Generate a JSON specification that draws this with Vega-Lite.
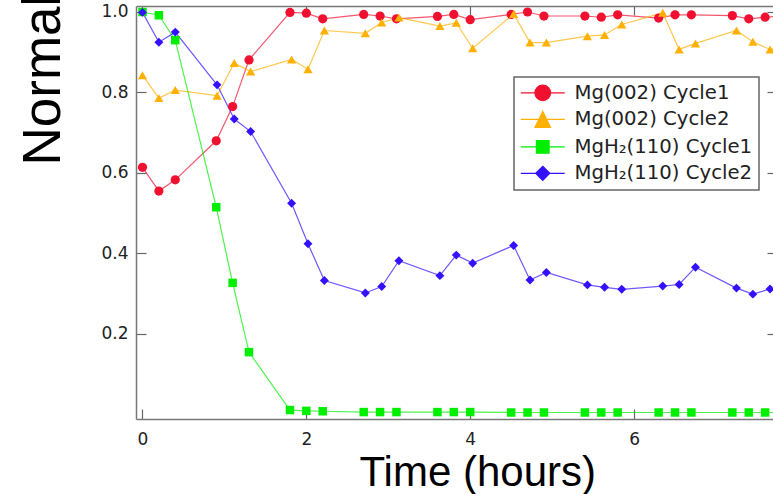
{
  "$schema": "https://vega.github.io/schema/vega-lite/v6.json",
  "width": 637,
  "height": 413,
  "autosize": {"type": "none"},
  "padding": {"left": 136, "top": 6, "right": 0, "bottom": 75},
  "background": "white",
  "config": {
    "view": {"stroke": null},
    "axis": {
      "grid": false,
      "domainColor": "#777777",
      "domainWidth": 1.5,
      "tickColor": "#666666",
      "tickWidth": 1.2,
      "labelFont": "DejaVu Sans",
      "labelFontSize": 17,
      "labelColor": "#222222",
      "labelFlush": false,
      "labelOverlap": false,
      "titleFont": "Liberation Sans",
      "titleFontWeight": "normal",
      "titleColor": "#000000"
    },
    "legend": {"strokeWidth": 1.5}
  },
  "datasets": {
    "scans": [
      {"t": 0, "s": "Mg(002) Cycle1", "v": 0.614},
      {"t": 0.2, "s": "Mg(002) Cycle1", "v": 0.555},
      {"t": 0.4, "s": "Mg(002) Cycle1", "v": 0.583},
      {"t": 0.9, "s": "Mg(002) Cycle1", "v": 0.68},
      {"t": 1.1, "s": "Mg(002) Cycle1", "v": 0.765},
      {"t": 1.3, "s": "Mg(002) Cycle1", "v": 0.881},
      {"t": 1.8, "s": "Mg(002) Cycle1", "v": 0.999},
      {"t": 2.0, "s": "Mg(002) Cycle1", "v": 0.997},
      {"t": 2.2, "s": "Mg(002) Cycle1", "v": 0.983},
      {"t": 2.7, "s": "Mg(002) Cycle1", "v": 0.994},
      {"t": 2.9, "s": "Mg(002) Cycle1", "v": 0.99},
      {"t": 3.1, "s": "Mg(002) Cycle1", "v": 0.983},
      {"t": 3.6, "s": "Mg(002) Cycle1", "v": 0.989},
      {"t": 3.8, "s": "Mg(002) Cycle1", "v": 0.994},
      {"t": 4.0, "s": "Mg(002) Cycle1", "v": 0.981},
      {"t": 4.5, "s": "Mg(002) Cycle1", "v": 0.994},
      {"t": 4.7, "s": "Mg(002) Cycle1", "v": 1.0},
      {"t": 4.9, "s": "Mg(002) Cycle1", "v": 0.99},
      {"t": 5.4, "s": "Mg(002) Cycle1", "v": 0.99},
      {"t": 5.6, "s": "Mg(002) Cycle1", "v": 0.987},
      {"t": 5.8, "s": "Mg(002) Cycle1", "v": 0.993},
      {"t": 6.3, "s": "Mg(002) Cycle1", "v": 0.985},
      {"t": 6.5, "s": "Mg(002) Cycle1", "v": 0.993},
      {"t": 6.7, "s": "Mg(002) Cycle1", "v": 0.993},
      {"t": 7.2, "s": "Mg(002) Cycle1", "v": 0.991},
      {"t": 7.4, "s": "Mg(002) Cycle1", "v": 0.983},
      {"t": 7.6, "s": "Mg(002) Cycle1", "v": 0.987},
      {"t": 7.8, "s": "Mg(002) Cycle1", "v": 0.99},

      {"t": 0, "s": "Mg(002) Cycle2", "v": 0.843},
      {"t": 0.2, "s": "Mg(002) Cycle2", "v": 0.786},
      {"t": 0.4, "s": "Mg(002) Cycle2", "v": 0.806},
      {"t": 0.91, "s": "Mg(002) Cycle2", "v": 0.792},
      {"t": 1.12, "s": "Mg(002) Cycle2", "v": 0.873},
      {"t": 1.32, "s": "Mg(002) Cycle2", "v": 0.852},
      {"t": 1.82, "s": "Mg(002) Cycle2", "v": 0.882},
      {"t": 2.02, "s": "Mg(002) Cycle2", "v": 0.858},
      {"t": 2.22, "s": "Mg(002) Cycle2", "v": 0.954},
      {"t": 2.72, "s": "Mg(002) Cycle2", "v": 0.947},
      {"t": 2.92, "s": "Mg(002) Cycle2", "v": 0.974},
      {"t": 3.13, "s": "Mg(002) Cycle2", "v": 0.986},
      {"t": 3.63, "s": "Mg(002) Cycle2", "v": 0.965},
      {"t": 3.83, "s": "Mg(002) Cycle2", "v": 0.973},
      {"t": 4.03, "s": "Mg(002) Cycle2", "v": 0.91},
      {"t": 4.53, "s": "Mg(002) Cycle2", "v": 0.995},
      {"t": 4.73, "s": "Mg(002) Cycle2", "v": 0.924},
      {"t": 4.93, "s": "Mg(002) Cycle2", "v": 0.924},
      {"t": 5.43, "s": "Mg(002) Cycle2", "v": 0.94},
      {"t": 5.64, "s": "Mg(002) Cycle2", "v": 0.943},
      {"t": 5.85, "s": "Mg(002) Cycle2", "v": 0.969},
      {"t": 6.35, "s": "Mg(002) Cycle2", "v": 0.998},
      {"t": 6.55, "s": "Mg(002) Cycle2", "v": 0.907},
      {"t": 6.75, "s": "Mg(002) Cycle2", "v": 0.922},
      {"t": 7.25, "s": "Mg(002) Cycle2", "v": 0.954},
      {"t": 7.45, "s": "Mg(002) Cycle2", "v": 0.926},
      {"t": 7.66, "s": "Mg(002) Cycle2", "v": 0.907},
      {"t": 7.86, "s": "Mg(002) Cycle2", "v": 0.91},

      {"t": 0, "s": "MgH₂(110) Cycle1", "v": 1.0},
      {"t": 0.2, "s": "MgH₂(110) Cycle1", "v": 0.992},
      {"t": 0.4, "s": "MgH₂(110) Cycle1", "v": 0.93},
      {"t": 0.9, "s": "MgH₂(110) Cycle1", "v": 0.515},
      {"t": 1.1, "s": "MgH₂(110) Cycle1", "v": 0.327},
      {"t": 1.3, "s": "MgH₂(110) Cycle1", "v": 0.155},
      {"t": 1.8, "s": "MgH₂(110) Cycle1", "v": 0.011},
      {"t": 2.0, "s": "MgH₂(110) Cycle1", "v": 0.009},
      {"t": 2.2, "s": "MgH₂(110) Cycle1", "v": 0.008},
      {"t": 2.7, "s": "MgH₂(110) Cycle1", "v": 0.006},
      {"t": 2.9, "s": "MgH₂(110) Cycle1", "v": 0.006},
      {"t": 3.1, "s": "MgH₂(110) Cycle1", "v": 0.006},
      {"t": 3.6, "s": "MgH₂(110) Cycle1", "v": 0.006},
      {"t": 3.8, "s": "MgH₂(110) Cycle1", "v": 0.006},
      {"t": 4.0, "s": "MgH₂(110) Cycle1", "v": 0.006},
      {"t": 4.5, "s": "MgH₂(110) Cycle1", "v": 0.005},
      {"t": 4.7, "s": "MgH₂(110) Cycle1", "v": 0.005},
      {"t": 4.9, "s": "MgH₂(110) Cycle1", "v": 0.005},
      {"t": 5.4, "s": "MgH₂(110) Cycle1", "v": 0.005},
      {"t": 5.6, "s": "MgH₂(110) Cycle1", "v": 0.005},
      {"t": 5.8, "s": "MgH₂(110) Cycle1", "v": 0.005},
      {"t": 6.3, "s": "MgH₂(110) Cycle1", "v": 0.005},
      {"t": 6.5, "s": "MgH₂(110) Cycle1", "v": 0.005},
      {"t": 6.7, "s": "MgH₂(110) Cycle1", "v": 0.005},
      {"t": 7.2, "s": "MgH₂(110) Cycle1", "v": 0.005},
      {"t": 7.4, "s": "MgH₂(110) Cycle1", "v": 0.005},
      {"t": 7.6, "s": "MgH₂(110) Cycle1", "v": 0.005},
      {"t": 7.8, "s": "MgH₂(110) Cycle1", "v": 0.005},

      {"t": 0, "s": "MgH₂(110) Cycle2", "v": 0.999},
      {"t": 0.2, "s": "MgH₂(110) Cycle2", "v": 0.925},
      {"t": 0.4, "s": "MgH₂(110) Cycle2", "v": 0.95},
      {"t": 0.91, "s": "MgH₂(110) Cycle2", "v": 0.819},
      {"t": 1.12, "s": "MgH₂(110) Cycle2", "v": 0.734},
      {"t": 1.32, "s": "MgH₂(110) Cycle2", "v": 0.703},
      {"t": 1.82, "s": "MgH₂(110) Cycle2", "v": 0.525},
      {"t": 2.02, "s": "MgH₂(110) Cycle2", "v": 0.424},
      {"t": 2.22, "s": "MgH₂(110) Cycle2", "v": 0.333},
      {"t": 2.72, "s": "MgH₂(110) Cycle2", "v": 0.302},
      {"t": 2.92, "s": "MgH₂(110) Cycle2", "v": 0.318},
      {"t": 3.13, "s": "MgH₂(110) Cycle2", "v": 0.382},
      {"t": 3.63, "s": "MgH₂(110) Cycle2", "v": 0.345},
      {"t": 3.83, "s": "MgH₂(110) Cycle2", "v": 0.396},
      {"t": 4.03, "s": "MgH₂(110) Cycle2", "v": 0.376},
      {"t": 4.53, "s": "MgH₂(110) Cycle2", "v": 0.42},
      {"t": 4.73, "s": "MgH₂(110) Cycle2", "v": 0.334},
      {"t": 4.93, "s": "MgH₂(110) Cycle2", "v": 0.353},
      {"t": 5.43, "s": "MgH₂(110) Cycle2", "v": 0.322},
      {"t": 5.64, "s": "MgH₂(110) Cycle2", "v": 0.316},
      {"t": 5.85, "s": "MgH₂(110) Cycle2", "v": 0.311},
      {"t": 6.35, "s": "MgH₂(110) Cycle2", "v": 0.319},
      {"t": 6.55, "s": "MgH₂(110) Cycle2", "v": 0.323},
      {"t": 6.75, "s": "MgH₂(110) Cycle2", "v": 0.366},
      {"t": 7.25, "s": "MgH₂(110) Cycle2", "v": 0.314},
      {"t": 7.45, "s": "MgH₂(110) Cycle2", "v": 0.299},
      {"t": 7.66, "s": "MgH₂(110) Cycle2", "v": 0.312},
      {"t": 7.86, "s": "MgH₂(110) Cycle2", "v": 0.32}
    ]
  },
  "data": {"name": "scans"},
  "encoding": {
    "x": {
      "field": "t",
      "type": "quantitative",
      "scale": {"domain": [-0.0793, 7.696], "nice": false, "zero": false},
      "axis": null
    },
    "y": {
      "field": "v",
      "type": "quantitative",
      "scale": {"domain": [-0.0112, 1.0149], "nice": false, "zero": false},
      "axis": null
    },
    "color": {
      "field": "s",
      "type": "nominal",
      "scale": {
        "domain": ["Mg(002) Cycle1", "Mg(002) Cycle2", "MgH₂(110) Cycle1", "MgH₂(110) Cycle2"],
        "range": ["#f0102f", "#ffb000", "#00ee00", "#3311ff"]
      },
      "legend": {
        "title": null,
        "orient": "none",
        "legendX": 378,
        "legendY": 71,
        "padding": 6,
        "strokeColor": "#666666",
        "fillColor": "white",
        "symbolSize": 225,
        "symbolStrokeWidth": 1.1,
        "symbolOpacity": 1,
        "symbolOffset": 12.9,
        "labelOffset": 21.8,
        "labelFont": "DejaVu Sans",
        "labelFontSize": 19.7,
        "labelColor": "#222222",
        "labelLimit": 400,
        "rowPadding": 5.5
      }
    }
  },
  "layer": [
    {
      "mark": {"type": "line", "clip": true, "strokeWidth": 1.2, "opacity": 0.7},
      "encoding": {
        "x": {
          "field": "t",
          "type": "quantitative",
          "scale": {"domain": [-0.0793, 7.696], "nice": false, "zero": false},
          "axis": {
            "orient": "bottom",
            "values": [0, 2, 4, 6],
            "format": "d",
            "tickSize": -10,
            "labelPadding": 22,
            "title": "Time (hours)",
            "titleFontSize": 42,
            "titleX": 223,
            "titleY": 66,
            "titleAlign": "left",
            "titleBaseline": "alphabetic",
            "titleAnchor": null
          }
        },
        "y": {
          "field": "v",
          "type": "quantitative",
          "scale": {"domain": [-0.0112, 1.0149], "nice": false, "zero": false},
          "axis": {
            "orient": "left",
            "values": [0.2, 0.4, 0.6, 0.8, 1.0],
            "format": ".1f",
            "tickSize": -10,
            "labelPadding": 18,
            "title": "Normalized Intensity",
            "titleFontSize": 53,
            "titleAngle": 270,
            "titleX": -77,
            "titleY": 159,
            "titleAlign": "left",
            "titleBaseline": "alphabetic",
            "titleAnchor": null
          }
        }
      }
    },
    {
      "transform": [{"filter": "datum.s === 'Mg(002) Cycle1'"}],
      "mark": {"type": "point", "shape": "circle", "filled": true, "clip": true, "size": 85, "opacity": 1},
      "encoding": {
        "x": {
          "field": "t",
          "type": "quantitative",
          "scale": {"domain": [-0.0793, 7.696], "nice": false, "zero": false},
          "axis": {
            "orient": "top",
            "values": [0, 2, 4, 6],
            "tickSize": -9,
            "labels": false,
            "title": null
          }
        },
        "y": {
          "field": "v",
          "type": "quantitative",
          "scale": {"domain": [-0.0112, 1.0149], "nice": false, "zero": false},
          "axis": {
            "orient": "right",
            "values": [0.2, 0.4, 0.6, 0.8, 1.0],
            "tickSize": -6,
            "domain": false,
            "labels": false,
            "title": null
          }
        }
      }
    },
    {
      "transform": [{"filter": "datum.s === 'Mg(002) Cycle2'"}],
      "mark": {"type": "point", "shape": "triangle-up", "filled": true, "clip": true, "size": 85, "opacity": 1}
    },
    {
      "transform": [{"filter": "datum.s === 'MgH₂(110) Cycle1'"}],
      "mark": {"type": "point", "shape": "square", "filled": true, "clip": true, "size": 72, "opacity": 1}
    },
    {
      "transform": [{"filter": "datum.s === 'MgH₂(110) Cycle2'"}],
      "mark": {"type": "point", "shape": "diamond", "filled": true, "clip": true, "size": 80, "opacity": 1}
    },
    {
      "description": "Legend key glyphs: a line segment through each series marker.",
      "mark": {"type": "point", "filled": true, "clip": true, "opacity": 0},
      "encoding": {
        "shape": {
          "field": "s",
          "type": "nominal",
          "scale": {
            "domain": ["Mg(002) Cycle1", "Mg(002) Cycle2", "MgH₂(110) Cycle1", "MgH₂(110) Cycle2"],
            "range": [
              "M-2.93,0L2.93,0M1.05,0A1.05,1.05,0,1,1,-1.05,0A1.05,1.05,0,1,1,1.05,0Z",
              "M-2.93,0L2.93,0M0,-1.07L1.05,1.07L-1.05,1.07Z",
              "M-2.93,0L2.93,0M-0.85,-0.85L0.85,-0.85L0.85,0.85L-0.85,0.85Z",
              "M-2.93,0L2.93,0M0,-0.95L0.95,0L0,0.95L-0.95,0Z"
            ]
          },
          "legend": {
            "title": null,
            "orient": "none",
            "legendX": 378,
            "legendY": 71,
            "padding": 6,
            "strokeColor": "#666666",
            "fillColor": "white",
            "symbolSize": 225,
            "symbolStrokeWidth": 1.1,
            "symbolOpacity": 1,
            "symbolOffset": 12.9,
            "labelOffset": 21.8,
            "labelFont": "DejaVu Sans",
            "labelFontSize": 19.7,
            "labelColor": "#222222",
            "labelLimit": 400,
            "rowPadding": 5.5
          }
        }
      }
    }
  ],
  "resolve": {"axis": {"x": "independent", "y": "independent"}}
}
